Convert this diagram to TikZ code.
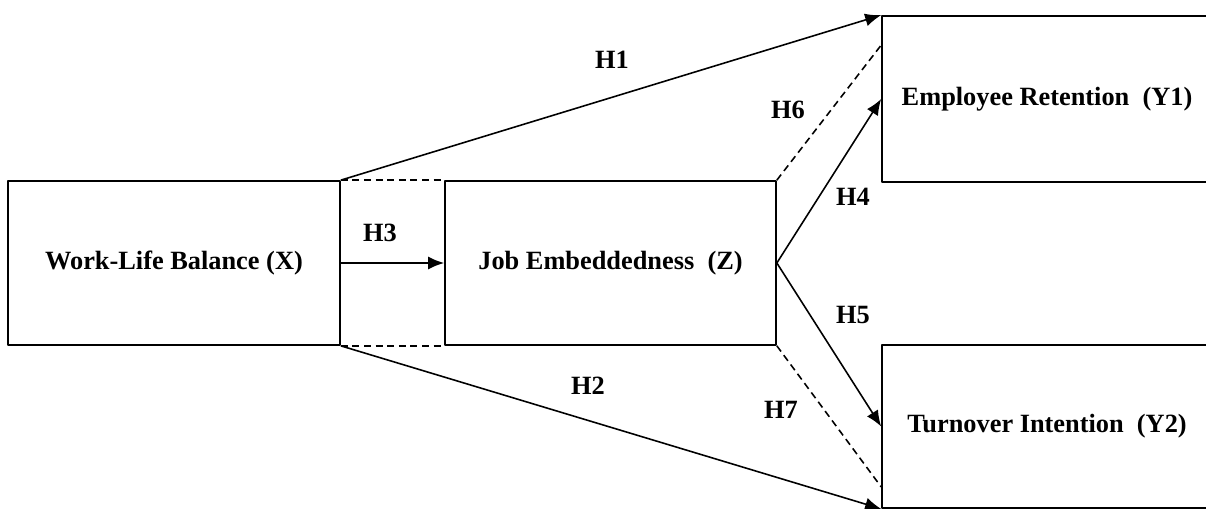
\documentclass[tikz,border=0pt]{standalone}
\usepackage{fontspec}
\setmainfont{Liberation Serif}
\usetikzlibrary{arrows.meta}
\begin{document}
\begin{tikzpicture}[x=0.02cm,y=-0.02cm,>={Latex[length=3.2mm,width=2.6mm]},line join=round,font=\fontsize{15}{18}\selectfont\bfseries,
	box/.style={draw,line width=1pt,minimum width=6.64cm,minimum height=3.28cm,inner sep=0pt},
	link/.style={->,line width=0.9pt},
	dashline/.style={dash pattern=on 4pt off 2.6pt,line width=0.9pt}]
		\useasboundingbox (0,0) rectangle (1206,509);
		\node[box] (X) at (174,263) {Work-Life Balance (X)};
		\node[box,minimum width=6.62cm] (Z) at (610.5,263) {Job Embeddedness\ \ (Z)};
		\node[box,minimum width=6.6cm,minimum height=3.32cm] (Y1) at (1047,99) {Employee Retention\ \ (Y1)};
		\node[box,minimum width=6.6cm,minimum height=3.26cm] (Y2) at (1047,426.5) {Turnover Intention\ \ (Y2)};
		\draw[link] (X.north east) -- (Y1.north west);
		\draw[link] (X.south east) -- (Y2.south west);
		\draw[link] (X.east) -- (Z.west);
		\draw[link] (Z.east) -- (Y1.west);
		\draw[link] (Z.east) -- (Y2.west);
		\draw[dashline] (X.north east) -- (Z.north west) (X.south east) -- (Z.south west);
		\draw[dashline] (Z.north east) -- (Y1.162);
		\draw[dashline] (Z.south east) -- (Y2.200);
		\node (h1) at (612,60) {H1};
		\node (h2) at (588,386) {H2};
		\node (h3) at (380,233) {H3};
		\node (h4) at (853,197) {H4};
		\node (h5) at (853,315) {H5};
		\node (h6) at (788,110) {H6};
		\node (h7) at (781,410) {H7};
		\end{tikzpicture}
\end{document}
